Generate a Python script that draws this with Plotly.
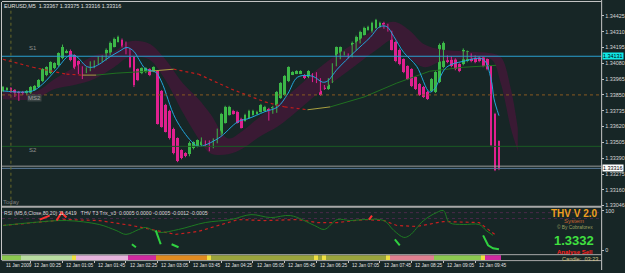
import plotly.graph_objects as go

W, H = 625, 273

# ---------------- data ----------------
bar_index = list(range(126))
opens = [1.33879, 1.33886, 1.33900, 1.33886, 1.33871, 1.33871, 1.33857, 1.33864, 1.33886, 1.33907,
         1.33950, 1.33994, 1.34008, 1.34044, 1.34065, 1.34116, 1.34159, 1.34173, 1.34137, 1.34094,
         1.34051, 1.34015, 1.34029, 1.34051, 1.34080, 1.34094, 1.34109, 1.34145, 1.34202, 1.34238,
         1.34252, 1.34231, 1.34180, 1.34123, 1.34037, 1.34008, 1.34015, 1.34037, 1.34022, 1.34022,
         1.33879, 1.33778, 1.33735, 1.33605, 1.33534, 1.33447, 1.33426, 1.33418, 1.33462, 1.33476,
         1.33483, 1.33512, 1.33512, 1.33469, 1.33505, 1.33562, 1.33648, 1.33706, 1.33735, 1.33728,
         1.33677, 1.33663, 1.33684, 1.33706, 1.33713, 1.33728, 1.33735, 1.33749, 1.33720, 1.33728,
         1.33828, 1.33850, 1.33950, 1.34001, 1.34008, 1.34008, 1.33994, 1.33979, 1.34001, 1.34008,
         1.33965, 1.33907, 1.33893, 1.33943, 1.34065, 1.34116, 1.34145, 1.34145, 1.34130, 1.34180,
         1.34231, 1.34288, 1.34324, 1.34310, 1.34339, 1.34346, 1.34375, 1.34360, 1.34310, 1.34238,
         1.34180, 1.34109, 1.34058, 1.34037, 1.33979, 1.33929, 1.33907, 1.33871, 1.33879, 1.33871,
         1.33943, 1.34051, 1.34130, 1.34123, 1.34109, 1.34073, 1.34073, 1.34094, 1.34145, 1.34130,
         1.34123, 1.34123, 1.34109, 1.34058, 1.33713, 1.33512]
highs = [1.33915, 1.33907, 1.33907, 1.33893, 1.33879, 1.33879, 1.33886, 1.33915, 1.33922, 1.33965,
         1.34044, 1.34058, 1.34094, 1.34087, 1.34159, 1.34216, 1.34180, 1.34180, 1.34145, 1.34101,
         1.34058, 1.34051, 1.34094, 1.34101, 1.34130, 1.34137, 1.34188, 1.34238, 1.34267, 1.34281,
         1.34260, 1.34238, 1.34188, 1.34130, 1.34044, 1.34051, 1.34051, 1.34044, 1.34058, 1.34029,
         1.33886, 1.33785, 1.33742, 1.33612, 1.33541, 1.33454, 1.33433, 1.33512, 1.33512, 1.33526,
         1.33541, 1.33519, 1.33519, 1.33534, 1.33605, 1.33720, 1.33771, 1.33771, 1.33742, 1.33735,
         1.33684, 1.33713, 1.33742, 1.33742, 1.33735, 1.33785, 1.33771, 1.33756, 1.33771, 1.33879,
         1.33943, 1.33994, 1.34058, 1.34022, 1.34029, 1.34029, 1.34001, 1.34029, 1.34008, 1.34015,
         1.33972, 1.33922, 1.33972, 1.34080, 1.34202, 1.34202, 1.34166, 1.34152, 1.34238, 1.34281,
         1.34317, 1.34346, 1.34353, 1.34382, 1.34403, 1.34382, 1.34382, 1.34367, 1.34317, 1.34245,
         1.34188, 1.34116, 1.34065, 1.34044, 1.33986, 1.33936, 1.33915, 1.33879, 1.33972, 1.34022,
         1.34224, 1.34238, 1.34137, 1.34130, 1.34116, 1.34080, 1.34188, 1.34173, 1.34152, 1.34137,
         1.34130, 1.34130, 1.34116, 1.34065, 1.33720, 1.33519]
lows = [1.33871, 1.33879, 1.33864, 1.33835, 1.33806, 1.33850, 1.33850, 1.33857, 1.33879, 1.33900,
        1.33943, 1.33986, 1.34001, 1.34037, 1.34058, 1.34109, 1.34152, 1.34094, 1.34037, 1.34001,
        1.33965, 1.34008, 1.34022, 1.34044, 1.34073, 1.34087, 1.34101, 1.34137, 1.34195, 1.34231,
        1.34195, 1.34145, 1.34044, 1.33907, 1.33950, 1.34001, 1.34008, 1.33986, 1.34015, 1.33634,
        1.33612, 1.33577, 1.33526, 1.33418, 1.33361, 1.33382, 1.33397, 1.33404, 1.33454, 1.33469,
        1.33476, 1.33476, 1.33440, 1.33462, 1.33498, 1.33555, 1.33641, 1.33699, 1.33706, 1.33641,
        1.33605, 1.33656, 1.33677, 1.33699, 1.33706, 1.33720, 1.33728, 1.33663, 1.33713, 1.33720,
        1.33821, 1.33843, 1.33943, 1.33994, 1.34001, 1.34001, 1.33965, 1.33972, 1.33943, 1.33936,
        1.33843, 1.33886, 1.33886, 1.33936, 1.34058, 1.34109, 1.34137, 1.34116, 1.34123, 1.34173,
        1.34224, 1.34281, 1.34317, 1.34303, 1.34331, 1.34339, 1.34331, 1.34310, 1.34173, 1.34087,
        1.34065, 1.34008, 1.33958, 1.33907, 1.33886, 1.33843, 1.33828, 1.33814, 1.33871, 1.33864,
        1.33936, 1.34044, 1.34080, 1.34051, 1.34029, 1.34015, 1.34065, 1.34087, 1.34087, 1.34080,
        1.34087, 1.34051, 1.34029, 1.33476, 1.33296, 1.33303]
closes = [1.33907, 1.33900, 1.33871, 1.33843, 1.33821, 1.33857, 1.33879, 1.33907, 1.33915, 1.33958,
          1.34037, 1.34051, 1.34087, 1.34080, 1.34152, 1.34202, 1.34173, 1.34101, 1.34044, 1.34008,
          1.33972, 1.34044, 1.34087, 1.34094, 1.34123, 1.34130, 1.34180, 1.34231, 1.34260, 1.34274,
          1.34202, 1.34152, 1.34051, 1.33922, 1.33958, 1.34044, 1.34044, 1.33994, 1.34051, 1.33641,
          1.33620, 1.33584, 1.33534, 1.33426, 1.33368, 1.33390, 1.33404, 1.33498, 1.33505, 1.33519,
          1.33534, 1.33483, 1.33447, 1.33526, 1.33598, 1.33713, 1.33763, 1.33763, 1.33713, 1.33648,
          1.33612, 1.33706, 1.33735, 1.33735, 1.33728, 1.33778, 1.33763, 1.33670, 1.33763, 1.33871,
          1.33936, 1.33986, 1.34051, 1.34015, 1.34022, 1.34022, 1.33972, 1.34022, 1.33950, 1.33943,
          1.33850, 1.33900, 1.33965, 1.34073, 1.34195, 1.34195, 1.34159, 1.34123, 1.34231, 1.34274,
          1.34310, 1.34339, 1.34346, 1.34375, 1.34396, 1.34375, 1.34339, 1.34317, 1.34180, 1.34094,
          1.34073, 1.34015, 1.33965, 1.33915, 1.33893, 1.33850, 1.33835, 1.33821, 1.33965, 1.34015,
          1.34216, 1.34231, 1.34087, 1.34058, 1.34037, 1.34022, 1.34180, 1.34166, 1.34094, 1.34087,
          1.34094, 1.34058, 1.34037, 1.33483, 1.33303, 1.33318]

# fast moving average (cyan)
ma_fast_bar = [0, 4.25, 7.5, 10, 13.5, 16.75, 18.5, 21, 22.5, 24.25,
               26.75, 29.25, 31.25, 33, 34.25, 36, 38.5, 40, 43.5, 47.5,
               49.25, 54.25, 59.25, 61.75, 66, 69.25, 71.75, 74.25, 78, 80.5,
               81.75, 84.25, 88.5, 92.5, 95, 96.75, 98.5, 101, 104.25, 107.5,
               108.75, 111.75, 116, 121, 123, 123.75, 125]
ma_fast_val = [1.33879, 1.33871, 1.33879, 1.33929, 1.34037, 1.34137, 1.34130, 1.34058, 1.34051, 1.34073,
               1.34123, 1.34166, 1.34195, 1.34166, 1.34109, 1.34037, 1.34015, 1.33943, 1.33677, 1.33512,
               1.33476, 1.33534, 1.33656, 1.33677, 1.33728, 1.33763, 1.33857, 1.33979, 1.33986, 1.33943,
               1.33950, 1.34037, 1.34159, 1.34267, 1.34346, 1.34346, 1.34274, 1.34159, 1.34058, 1.33871,
               1.33893, 1.34051, 1.34094, 1.34109, 1.33965, 1.33821, 1.33699]

# slow moving average (colour by slope)
ma_slow_bar = [0, 7.5, 16, 20, 23.5, 28.5, 36.75, 43, 49.25, 57.5, 66, 71, 76.75, 82.5, 91, 99.25, 107.5, 116, 124.25]
ma_slow_val = [1.34109, 1.34051, 1.34001, 1.33994, 1.33994, 1.34008, 1.34022, 1.34037, 1.34001, 1.33893,
               1.33799, 1.33763, 1.33742, 1.33763, 1.33835, 1.33936, 1.34022, 1.34051, 1.34065]
ma_slow_state = ['down', 'down', 'down', 'flat', 'up', 'up', 'flat', 'down', 'down', 'down',
                 'down', 'down', 'flat', 'up', 'up', 'up', 'up', 'up']

# shadow band
band_bar = [0, 8, 13, 18, 23, 28, 31.75, 36.75, 40.5, 45.5, 49.25, 52.25, 56.75, 60.5, 64.75,
            69.25, 74.25, 79.25, 84.25, 89.25, 94.25, 98.5, 102.25, 106.25, 110.5, 116.75, 123, 125.5, 128, 129.75]
band_upper = [1.33879, 1.33871, 1.33965, 1.34051, 1.34137, 1.34166, 1.34238, 1.34224, 1.34123, 1.33929,
              1.33821, 1.33713, 1.33534, 1.33591, 1.33692, 1.33785, 1.33907, 1.34037, 1.34145, 1.34238,
              1.34339, 1.34382, 1.34324, 1.34216, 1.34180, 1.34166, 1.34152, 1.34123, 1.33893, 1.33605]
band_lower = [1.33821, 1.33821, 1.33893, 1.33922, 1.33965, 1.34051, 1.34123, 1.34109, 1.33979, 1.33713,
              1.33534, 1.33426, 1.33418, 1.33462, 1.33548, 1.33620, 1.33735, 1.33857, 1.33965, 1.34073,
              1.34180, 1.34252, 1.34123, 1.34051, 1.34094, 1.34109, 1.34109, 1.33929, 1.33605, 1.33440]

# levels
level_s1 = 1.34131
level_ms2 = 1.33850
level_s2 = 1.33476
bid_price = 1.33316
ask_line = 1.33332
day_separator_bar = 2

price_ticks = [1.34425, 1.34310, 1.34195, 1.34080, 1.33965, 1.33850, 1.33735,
               1.33620, 1.33505, 1.33390, 1.33275, 1.33160, 1.33046]

time_labels = ["11 Jan 2009", "12 Jan 00:25", "12 Jan 01:05", "12 Jan 01:45", "12 Jan 02:25",
               "12 Jan 03:05", "12 Jan 03:45", "12 Jan 04:25", "12 Jan 05:05", "12 Jan 05:45",
               "12 Jan 06:25", "12 Jan 07:05", "12 Jan 07:45", "12 Jan 08:25", "12 Jan 09:05",
               "12 Jan 09:45"]
time_label_bars = [-0.25, 7, 15, 23, 31, 39, 47, 55, 63, 71, 79, 87, 95, 103, 111, 119]

# sub-window oscillators (0..100)
rsi_bar = [0, 7.5, 16, 24.25, 32.5, 38.5, 43.5, 49.25, 54.25, 59.25, 66, 74.25, 79.25, 84.25,
           91, 96, 99.25, 104.25, 111, 120, 124.25]
rsi_val = [62.5, 70, 77.5, 75, 62.5, 50, 40, 47.5, 62.5, 77.5, 75, 77.5, 70, 70, 77.5, 75,
           62.5, 60, 72.5, 70, 37.5]
trix_bar = [0, 7.5, 16, 24.25, 28.5, 31, 34.25, 36, 39.25, 44.25, 51, 57.5, 62.5, 67.5, 72.5, 78.5,
            81, 84.25, 87.5, 91, 96, 98.5, 101, 102.5, 106, 109.25, 111, 112.5, 116, 120, 121.75, 123.5]
trix_val = [62.5, 70, 75, 65, 50, 40, 52.5, 57.5, 45, 52.5, 70, 77.5, 90, 82.5, 87.5, 62.5,
            52.5, 77.5, 75, 77.5, 75, 50, 32.5, 37.5, 75, 95, 100, 70, 65, 65, 50, 37.5]
trix_hi_bar = [32.5, 33.5, None, 38.5, 39.75, None, 42.5, 44.25, None, 98.75, 100, None, 121, 122.25, 123.5, 125]
trix_hi_val = [15, 7.5, None, 50, 15, None, 15, 7.5, None, 27.5, 12.5, None, 37.5, 12.5, 5, 2.5]
rsi_hi_bar = [9.25, 11.75, None, 13.5, 14.75, 16, None, 92.25, 93]
rsi_hi_val = [77.5, 87.5, None, 75, 95, 82.5, None, 77.5, 87.5]
sub_levels = [80, 95]

# signal strip (start bar, end bar, state)
strip_segments = [(0, 4, 'mix_up'), (5, 17, 'light_up'), (18, 18, 'flip'), (19, 31, 'light_down'),
                  (32, 38, 'sell'), (39, 51, 'orange'), (52, 52, 'flip'), (53, 78, 'mix_up2'),
                  (79, 79, 'flip'), (80, 80, 'mix_up2'), (81, 81, 'flip'), (82, 96, 'mix_up2'),
                  (97, 97, 'flip'), (98, 108, 'light_down2'), (109, 120, 'mix_up'), (121, 121, 'flip'),
                  (122, 125, 'sell')]

# ---------------- styles ----------------
BG = '#172626'
GREEN = '#3cb848'
PINK = '#e0208f'
STRIP_COLORS = {'mix_up': '#8cc850', 'light_up': '#b8dca0', 'flip': '#f0e040', 'light_down': '#e6b4dc',
                'sell': '#d02aa0', 'orange': '#e08a20', 'mix_up2': '#9aa43c', 'light_down2': '#e08090'}
FONT = 'Liberation Sans'


def py(p):
    return 1 - p / H


def pxp(p):
    return p / W


fig = go.Figure()

# band
fig.add_trace(go.Scatter(x=band_bar, y=band_lower, mode='lines', line=dict(width=0, shape='spline'),
                         hoverinfo='skip', showlegend=False))
fig.add_trace(go.Scatter(x=band_bar, y=band_upper, mode='lines', line=dict(width=0, shape='spline'),
                         fill='tonexty', fillcolor='#3a1a34', hoverinfo='skip', showlegend=False))

# candles
bull = [i for i in bar_index if closes[i] >= opens[i]]
bear = [i for i in bar_index if closes[i] < opens[i]]
for idx, col in ((bull, GREEN), (bear, PINK)):
    wx, wy = [], []
    for i in idx:
        wx += [i, i, None]
        wy += [lows[i], highs[i], None]
    fig.add_trace(go.Scatter(x=wx, y=wy, mode='lines', line=dict(color=col, width=1),
                             hoverinfo='skip', showlegend=False))
    fig.add_trace(go.Bar(x=idx, base=[min(opens[i], closes[i]) for i in idx],
                         y=[max(abs(closes[i] - opens[i]), 0.00003) for i in idx],
                         width=0.72, marker=dict(color=col, line=dict(width=0)), showlegend=False))

# slow MA
slow_style = {'down': dict(color='#c01c1c', width=1.2, dash='dot'),
              'flat': dict(color='#a8a040', width=1),
              'up': dict(color='#1f7020', width=1)}
for st, style in slow_style.items():
    sx, sy = [], []
    for k, s in enumerate(ma_slow_state):
        if s == st:
            sx += [ma_slow_bar[k], ma_slow_bar[k + 1], None]
            sy += [ma_slow_val[k], ma_slow_val[k + 1], None]
    fig.add_trace(go.Scatter(x=sx, y=sy, mode='lines', line=style, hoverinfo='skip', showlegend=False))

# fast MA
fig.add_trace(go.Scatter(x=ma_fast_bar, y=ma_fast_val, mode='lines',
                         line=dict(color='#22a6dc', width=1, shape='spline'), showlegend=False))

# sub-window
fig.add_trace(go.Scatter(x=rsi_bar, y=rsi_val, yaxis='y2', mode='lines',
                         line=dict(color='#c82020', width=1.2, dash='dot'), showlegend=False))
fig.add_trace(go.Scatter(x=trix_bar, y=trix_val, yaxis='y2', mode='lines',
                         line=dict(color='#1e7a22', width=1, shape='spline'), showlegend=False))
fig.add_trace(go.Scatter(x=trix_hi_bar, y=trix_hi_val, yaxis='y2', mode='lines',
                         line=dict(color='#30d040', width=2), showlegend=False))
fig.add_trace(go.Scatter(x=rsi_hi_bar, y=rsi_hi_val, yaxis='y2', mode='lines',
                         line=dict(color='#ff3030', width=2), showlegend=False))

# strip
sx, sc = [], []
for a, b, st in strip_segments:
    for i in range(a, b + 1):
        sx.append(i)
        sc.append(STRIP_COLORS[st])
fig.add_trace(go.Bar(x=sx, y=[1] * len(sx), base=0, yaxis='y3', width=1.0,
                     marker=dict(color=sc, line=dict(width=0)), showlegend=False))

MAIN_DOM = [py(208), py(2)]
SUB_DOM = [py(257), py(210)]
STRIP_DOM = [py(263), py(258)]

axis_font = dict(family=FONT, size=5.4, color='#d8d8d8')
fig.update_layout(
    width=W, height=H, margin=dict(l=0, r=0, t=0, b=0),
    paper_bgcolor=BG, plot_bgcolor=BG, showlegend=False, barmode='overlay', bargap=0,
    xaxis=dict(domain=[pxp(2), pxp(606)], range=[-0.25, 150.75], anchor='y3', showgrid=False,
               zeroline=False, showticklabels=False, ticks='outside', ticklen=2,
               tickcolor='#c0c0c0', tickvals=time_label_bars[1:], showline=False),
    yaxis=dict(domain=MAIN_DOM, range=[1.34540 - 0.0000719 * 208, 1.34540 - 0.0000719 * 2],
               side='right', anchor='x', tickvals=price_ticks,
               ticktext=[f'{v:.5f}' for v in price_ticks], tickfont=axis_font,
               ticks='outside', ticklen=2, tickcolor='#c0c0c0', showgrid=False, zeroline=False),
    yaxis2=dict(domain=SUB_DOM, range=[-10, 107.5], side='right', anchor='x', tickvals=[0, 100],
                ticktext=['0', '100'], tickfont=axis_font, ticks='outside', ticklen=2,
                tickcolor='#c0c0c0', showgrid=False, zeroline=False),
    yaxis3=dict(domain=STRIP_DOM, range=[0, 1], anchor='x', showticklabels=False, showgrid=False,
                zeroline=False),
)

shapes = []
# levels
for lvl, col, dash, w in ((level_s1, '#2aa0d0', 'solid', 1), (level_ms2, '#8a5a20', 'dot', 1),
                          (level_s2, '#1a5a24', 'solid', 1), (ask_line, '#9a9a9a', 'solid', 1),
                          (bid_price, '#5a7a9a', 'solid', 1)):
    shapes.append(dict(type='line', xref='x domain', x0=0, x1=1, yref='y', y0=lvl, y1=lvl,
                       line=dict(color=col, width=w, dash=dash), layer='above'))
for lv in sub_levels:
    shapes.append(dict(type='line', xref='x domain', x0=0, x1=1, yref='y2', y0=lv, y1=lv,
                       line=dict(color='#4a2a4a', width=1, dash='dot'), layer='below'))
# day separator
shapes.append(dict(type='line', xref='x', x0=day_separator_bar, x1=day_separator_bar, yref='paper',
                   y0=py(208), y1=py(2), line=dict(color='#6a6a2a', width=1, dash='dot')))
# frame lines
for (x0, y0, x1, y1, col, w) in ((2, 1.5, 606, 1.5, '#c8c8c8', 1), (1.5, 2, 1.5, 263, '#c8c8c8', 1),
                                 (606.5, 0, 606.5, 273, '#c8c8c8', 1),
                                 (2, 209, 606, 209, '#a8a8a8', 2),
                                 (2, 257.5, 606, 257.5, '#a8a8a8', 1),
                                 (2, 263.5, 606, 263.5, '#a8a8a8', 1)):
    shapes.append(dict(type='line', xref='paper', yref='paper', x0=pxp(x0), x1=pxp(x1),
                       y0=py(y0), y1=py(y1), line=dict(color=col, width=w)))
fig.update_layout(shapes=shapes)

ann = []


def txt(x, y, s, size=5.4, color='#d8d8d8', anchor='left', bold=False, bg=None, family=FONT):
    d = dict(xref='paper', yref='paper', x=pxp(x), y=py(y), text=f'<b>{s}</b>' if bold else s,
             showarrow=False, xanchor=anchor, yanchor='middle',
             font=dict(family=family, size=size, color=color), borderpad=0)
    if bg:
        d['bgcolor'] = bg
    ann.append(d)


txt(3, 6, 'EURUSD,M5  1.33367 1.33375 1.33316 1.33316', size=5.4, color='#e0e0e0')
txt(28, 49, 'S1', size=6, color='#909090')
txt(27, 99, 'MS2', size=6, color='#a0a0a0', bg='#3a4444')
txt(28, 152, 'S2', size=6, color='#909090')
txt(2, 204, 'Today', size=6, color='#808080')
txt(3, 215, 'RSI (M5,6,Close,80,20) 11.6419   THV T3 Trix_v3  0.0005 0.0000 -0.0005 -0.0012 -0.0005',
    size=5.1, color='#d8d8d8')
txt(579, 215.5, 'THV V 2.0', size=10, color='#f0a020', anchor='center', bold=True)
txt(579, 223.5, 'System', size=6, color='#c86030', anchor='center')
txt(580, 230, '© By Cobraforex', size=4.8, color='#9aa060', anchor='center')
txt(579, 243, '1.3332', size=13, color='#40e040', anchor='center', bold=True)
txt(580, 255, 'Analyse Sell', size=6, color='#ff2020', anchor='center', bold=True)
txt(585, 262, 'Candle:  03:23', size=5.6, color='#d0c080', anchor='center')

# price highlight boxes
for lvl, s, bg in ((level_s1, '1.34131', '#10e8e8'), (bid_price, '1.33316', '#ffffff')):
    ann.append(dict(xref='paper', yref='y', x=pxp(607), y=lvl, text=s, showarrow=False,
                    xanchor='left', yanchor='middle', bgcolor=bg, borderpad=0,
                    font=dict(family=FONT, size=5.4, color='#000000')))

# time labels
for b, s in zip(time_label_bars, time_labels):
    ann.append(dict(xref='x', yref='paper', x=b + 0.4, y=py(268.5), text=s, showarrow=False,
                    xanchor='left', yanchor='middle', font=dict(family=FONT, size=4.7, color='#e0e0e0')))

fig.update_layout(annotations=ann)
fig.write_html('out.html')
